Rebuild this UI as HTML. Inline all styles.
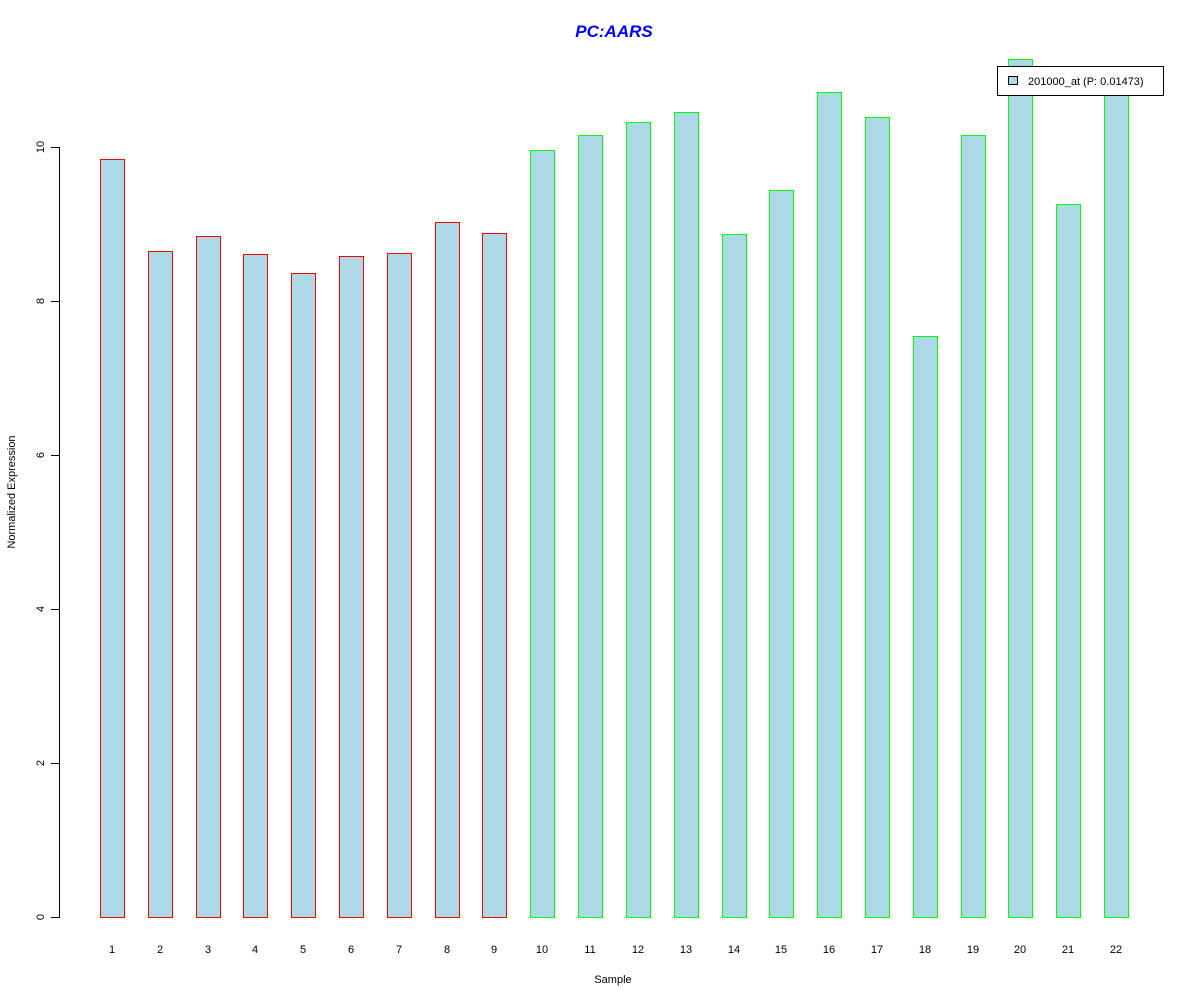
<!DOCTYPE html>
<html><head><style>html,body{margin:0;padding:0;background:#fff}svg{display:block}</style></head><body>
<svg width="1200" height="1000" xmlns="http://www.w3.org/2000/svg" font-family="Liberation Sans, sans-serif" shape-rendering="crispEdges">
<rect width="1200" height="1000" fill="#fff"/>
<text x="614" y="37" text-anchor="middle" font-size="17" font-weight="bold" font-style="italic" fill="#0000ff">PC:AARS</text>
<g fill="#ff0000">
<rect x="100" y="159" width="25" height="759"/>
<rect x="148" y="251" width="25" height="667"/>
<rect x="196" y="236" width="25" height="682"/>
<rect x="243" y="254" width="25" height="664"/>
<rect x="291" y="273" width="25" height="645"/>
<rect x="339" y="256" width="25" height="662"/>
<rect x="387" y="253" width="25" height="665"/>
<rect x="435" y="222" width="25" height="696"/>
<rect x="482" y="233" width="25" height="685"/>
</g>
<g fill="#00ff00">
<rect x="530" y="150" width="25" height="768"/>
<rect x="578" y="135" width="25" height="783"/>
<rect x="626" y="122" width="25" height="796"/>
<rect x="674" y="112" width="25" height="806"/>
<rect x="722" y="234" width="25" height="684"/>
<rect x="769" y="190" width="25" height="728"/>
<rect x="817" y="92" width="25" height="826"/>
<rect x="865" y="117" width="25" height="801"/>
<rect x="913" y="336" width="25" height="582"/>
<rect x="961" y="135" width="25" height="783"/>
<rect x="1008" y="59" width="25" height="859"/>
<rect x="1056" y="204" width="25" height="714"/>
<rect x="1104" y="85" width="25" height="833"/>
</g>
<g fill="#add8e6">
<rect x="101" y="160" width="23" height="757"/>
<rect x="149" y="252" width="23" height="665"/>
<rect x="197" y="237" width="23" height="680"/>
<rect x="244" y="255" width="23" height="662"/>
<rect x="292" y="274" width="23" height="643"/>
<rect x="340" y="257" width="23" height="660"/>
<rect x="388" y="254" width="23" height="663"/>
<rect x="436" y="223" width="23" height="694"/>
<rect x="483" y="234" width="23" height="683"/>
<rect x="531" y="151" width="23" height="766"/>
<rect x="579" y="136" width="23" height="781"/>
<rect x="627" y="123" width="23" height="794"/>
<rect x="675" y="113" width="23" height="804"/>
<rect x="723" y="235" width="23" height="682"/>
<rect x="770" y="191" width="23" height="726"/>
<rect x="818" y="93" width="23" height="824"/>
<rect x="866" y="118" width="23" height="799"/>
<rect x="914" y="337" width="23" height="580"/>
<rect x="962" y="136" width="23" height="781"/>
<rect x="1009" y="60" width="23" height="857"/>
<rect x="1057" y="205" width="23" height="712"/>
<rect x="1105" y="86" width="23" height="831"/>
</g>
<g fill="#000">
<rect x="59" y="147" width="1" height="771"/>
<rect x="51" y="917" width="9" height="1"/>
<rect x="51" y="763" width="9" height="1"/>
<rect x="51" y="609" width="9" height="1"/>
<rect x="51" y="455" width="9" height="1"/>
<rect x="51" y="301" width="9" height="1"/>
<rect x="51" y="147" width="9" height="1"/>
</g>
<g font-size="11" fill="#000" text-anchor="middle">
<text transform="translate(44,917) rotate(-90)">0</text>
<text transform="translate(44,763) rotate(-90)">2</text>
<text transform="translate(44,609) rotate(-90)">4</text>
<text transform="translate(44,455) rotate(-90)">6</text>
<text transform="translate(44,301) rotate(-90)">8</text>
<text transform="translate(44,147) rotate(-90)">10</text>
<text transform="translate(15,492) rotate(-90)">Normalized Expression</text>
<text x="613" y="983">Sample</text>
<text x="112" y="953">1</text><text x="160" y="953">2</text><text x="208" y="953">3</text><text x="255" y="953">4</text><text x="303" y="953">5</text><text x="351" y="953">6</text><text x="399" y="953">7</text><text x="447" y="953">8</text><text x="494" y="953">9</text><text x="542" y="953">10</text><text x="590" y="953">11</text><text x="638" y="953">12</text><text x="686" y="953">13</text><text x="734" y="953">14</text><text x="781" y="953">15</text><text x="829" y="953">16</text><text x="877" y="953">17</text><text x="925" y="953">18</text><text x="973" y="953">19</text><text x="1020" y="953">20</text><text x="1068" y="953">21</text><text x="1116" y="953">22</text>
</g>
<rect x="997.5" y="66.5" width="166" height="29" fill="#fff" stroke="#000"/>
<rect x="1008.5" y="76.5" width="9" height="8" fill="#add8e6" stroke="#000"/>
<text x="1028" y="85" font-size="11">201000_at (P: 0.01473)</text>
</svg>
</body></html>
